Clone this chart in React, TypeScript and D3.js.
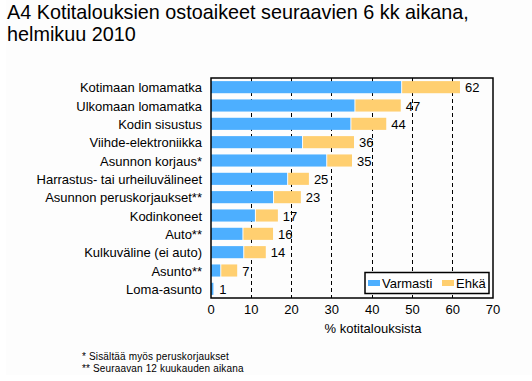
import React from "react";
import * as d3 from "d3";

const categories = [
  "Kotimaan lomamatka",
  "Ulkomaan lomamatka",
  "Kodin sisustus",
  "Viihde-elektroniikka",
  "Asunnon korjaus*",
  "Harrastus- tai urheiluvälineet",
  "Asunnon peruskorjaukset**",
  "Kodinkoneet",
  "Auto**",
  "Kulkuväline (ei auto)",
  "Asunto**",
  "Loma-asunto",
];
const varmasti = [47.2, 35.6, 34.6, 22.6, 28.6, 18.9, 15.4, 10.9, 7.8, 8.0, 2.3, 0.6];
const ehka = [14.6, 11.5, 8.9, 12.9, 6.4, 5.4, 6.9, 5.7, 7.6, 5.6, 4.2, 0.2];
const totalLabels = ["62", "47", "44", "36", "35", "25", "23", "17", "16", "14", "7", "1"];
const xTicks = [0, 10, 20, 30, 40, 50, 60, 70];
const gridTicks = [10, 20, 30, 40, 50, 60];
const seriesNames = ["Varmasti", "Ehkä"];

const BLUE = "#4DAFFF";
const YELLOW = "#FFCF70";
const FONT = "'Liberation Sans', Arial, sans-serif";

export default function App() {
  const W = 532, H = 381;
  const left = 211, right = 493, top = 78, bottom = 298;
  const x = d3.scaleLinear().domain([0, 70]).range([left, right]);
  const y = d3.scaleBand<string>().domain(categories).range([top, bottom]).paddingInner(0.34).paddingOuter(0.17);
  const bw = y.bandwidth();

  return (
    <svg width={W} height={H} style={{ position: "absolute", left: 0, top: 0, background: "#fff" }} fontFamily={FONT}>
      <rect x={6} y={0} width={W - 6} height={375} fill="#fdfdfd" />
      <text x={7} y={19} fontSize={19.8} fill="#000">A4 Kotitalouksien ostoaikeet seuraavien 6 kk aikana,</text>
      <text x={7} y={41} fontSize={19.8} fill="#000">helmikuu 2010</text>

      {gridTicks.map((t) => (
        <line key={t} x1={x(t)} x2={x(t)} y1={top} y2={bottom} stroke="#000" strokeWidth={1} strokeDasharray="4,3" shapeRendering="crispEdges" />
      ))}

      {categories.map((c, i) => {
        const y0 = y(c)!;
        const xb = x(varmasti[i]);
        const xe = x(varmasti[i] + ehka[i]);
        return (
          <g key={c}>
            <rect x={x(0)} y={y0} width={xb - x(0)} height={bw} fill={BLUE} />
            <rect x={xb + 1} y={y0} width={Math.max(0, xe - xb - 1)} height={bw} fill={YELLOW} />
            <text x={xe + 5} y={y0 + bw / 2 + 5} fontSize={13} fill="#000">{totalLabels[i]}</text>
            <text x={202} y={y0 + bw / 2 + 5} fontSize={13} textAnchor="end" fill="#000">{c}</text>
          </g>
        );
      })}

      <rect x={left} y={top} width={right - left} height={bottom - top} fill="none" stroke="#000" strokeWidth={1.5} />

      {xTicks.map((t) => (
        <text key={t} x={x(t)} y={314} fontSize={13} textAnchor="middle" fill="#000">{t}</text>
      ))}
      <text x={373} y={333} fontSize={13} textAnchor="middle" fill="#000">% kotitalouksista</text>

      <rect x={365} y={272.5} width={124} height={21} fill="#fff" stroke="#000" strokeWidth={1.5} />
      <rect x={368} y={280} width={12} height={6} fill={BLUE} />
      <text x={382} y={288} fontSize={13} fill="#000">{seriesNames[0]}</text>
      <rect x={442} y={280} width={12} height={6} fill={YELLOW} />
      <text x={456} y={288} fontSize={13} fill="#000">{seriesNames[1]}</text>

      <text x={82} y={360} fontSize={10} letterSpacing={0.15} fill="#000">* Sisältää myös peruskorjaukset</text>
      <text x={82} y={372} fontSize={10} letterSpacing={0.15} fill="#000">** Seuraavan 12 kuukauden aikana</text>
    </svg>
  );
}
